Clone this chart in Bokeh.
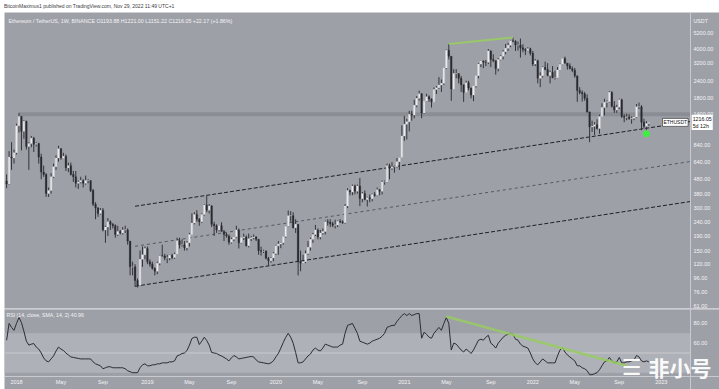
import pandas as pd
from bokeh.plotting import figure
from bokeh.models import (Range1d, FixedTicker, PrintfTickFormatter, Label, Span,
                          BoxAnnotation, Div, Spacer, ColumnDataSource)
from bokeh.layouts import column, row
from bokeh.embed import file_html
from bokeh.resources import INLINE

# ---------------- data (weekly ETH/USDT candles) ----------------
week_start = "2017-12-04"
first_open = 466

closes = [445, 690, 680, 740,
          1150, 1340, 1050, 1240, 820, 860, 940, 850, 860, 690,
          540, 520, 380, 400, 500, 590, 680, 790, 680, 700,
          580, 600, 520, 500, 450, 460, 470, 450, 470, 470,
          400, 320, 300, 275, 290, 210, 220, 240, 230, 225,
          195, 205, 200, 210, 210, 175, 115, 115, 92, 85,
          130, 140,
          155, 125, 120, 112, 107, 122, 138, 137, 133, 133,
          139, 134, 141, 176, 165, 165, 157, 170, 195, 235,
          270, 250, 240, 270, 315, 290, 310, 230, 225, 210,
          225, 205, 195, 190, 172, 180, 188, 210, 170, 185,
          187, 162, 182, 185, 187, 180, 150, 148, 149, 132,
          127, 133,
          143, 162, 167, 170, 189, 223, 265, 265, 218, 230,
          125, 122, 125, 143, 158, 180, 195, 210, 187, 200,
          205, 240, 238, 232, 227, 228, 242, 240, 236, 310,
          400, 390, 430, 395, 430, 350, 380, 345, 355, 350,
          375, 370, 405, 395, 460, 460, 600, 575, 590, 590,
          640, 685,
          975, 1180, 1230, 1390, 1370, 1610, 1800, 1940, 1420, 1720,
          1850, 1780, 1700, 2080, 2140, 2240, 2300, 2950, 3950, 3580,
          2100, 2700, 2700, 2500, 2250, 1980, 2320, 2130, 1900, 2200,
          2600, 3150, 3310, 3250, 3240, 3900, 3400, 3330, 2930, 3400,
          3580, 3850, 4080, 4280, 4610, 4570, 4300, 4300, 4110, 4000,
          3930, 4040,
          3760, 3150, 3330, 2500, 2600, 2990, 2880, 2620, 2760, 2520,
          2520, 2860, 3140, 3450, 3200, 3060, 2920, 2850, 2600, 2050,
          1980, 1940, 1800, 1440, 1130, 1140, 1170, 1100, 1340, 1550,
          1690, 1700, 1990, 1580, 1490, 1560, 1760, 1340, 1320, 1330,
          1290, 1300, 1330, 1570, 1570, 1220, 1140, 1193.88, 1216.05]

highs = [520, 760, 880, 780,
         1190, 1420, 1350, 1260, 1250, 880, 975, 960, 880, 870,
         730, 600, 530, 420, 530, 620, 710, 830, 800, 740,
         720, 630, 630, 550, 550, 470, 500, 480, 510, 480,
         470, 410, 330, 305, 300, 300, 225, 255, 245, 235,
         230, 225, 210, 220, 225, 215, 175, 125, 120, 95,
         150, 160,
         160, 160, 130, 125, 114, 125, 140, 165, 142, 140,
         140, 142, 145, 185, 185, 180, 175, 175, 200, 275,
         280, 290, 255, 275, 320, 365, 320, 315, 240, 230,
         225, 238, 210, 200, 195, 185, 190, 225, 215, 185,
         198, 192, 198, 190, 195, 190, 180, 160, 152, 150,
         135, 135,
         146, 165, 175, 172, 190, 225, 288, 285, 280, 250,
         230, 150, 140, 150, 175, 185, 200, 228, 215, 210,
         215, 245, 250, 250, 240, 248, 245, 250, 245, 320,
         415, 405, 440, 440, 440, 490, 390, 400, 360, 375,
         380, 390, 420, 410, 470, 470, 620, 620, 635, 600,
         680, 690,
         1160, 1350, 1290, 1470, 1470, 1760, 1870, 2040, 1960, 1720,
         1940, 1890, 1800, 2150, 2200, 2550, 2450, 2950, 4000, 4370,
         3580, 2900, 2900, 2700, 2600, 2250, 2400, 2400, 2150, 2200,
         2600, 3200, 3330, 3340, 3370, 4030, 3950, 3700, 3350, 3480,
         3650, 3970, 4380, 4460, 4660, 4870, 4650, 4550, 4780, 4360,
         4080, 4150,
         4120, 3900, 3420, 3380, 2750, 3040, 3280, 3200, 2830, 3050,
         2830, 3000, 3180, 3480, 3560, 3210, 3190, 3030, 2960, 2600,
         2160, 2050, 2000, 1920, 1450, 1250, 1220, 1280, 1380, 1660,
         1790, 1740, 2030, 2020, 1720, 1620, 1790, 1790, 1390, 1400,
         1390, 1340, 1340, 1640, 1680, 1610, 1290, 1240, 1221.00]

lows = [415, 440, 560, 620,
        720, 1030, 770, 930, 780, 560, 810, 750, 820, 620,
        480, 500, 360, 360, 380, 490, 560, 640, 660, 680,
        550, 540, 510, 460, 420, 410, 450, 420, 440, 450,
        390, 310, 250, 260, 270, 205, 170, 190, 210, 215,
        185, 190, 195, 195, 200, 165, 100, 100, 83, 82,
        84, 115,
        130, 120, 115, 110, 100, 102, 118, 136, 128, 122,
        128, 130, 131, 140, 155, 160, 150, 150, 160, 195,
        230, 240, 225, 235, 265, 280, 275, 220, 190, 200,
        205, 205, 175, 185, 165, 168, 175, 185, 155, 168,
        178, 160, 158, 175, 180, 175, 140, 138, 144, 130,
        117, 123,
        126, 140, 140, 156, 165, 185, 220, 240, 215, 200,
        100, 107, 121, 122, 140, 150, 170, 190, 180, 180,
        195, 195, 225, 220, 220, 215, 220, 235, 232, 232,
        300, 370, 370, 375, 380, 310, 330, 340, 308, 330,
        335, 360, 365, 370, 375, 440, 455, 480, 560, 535,
        580, 560,
        680, 900, 920, 1050, 1250, 1300, 1560, 1740, 1300, 1400,
        1700, 1700, 1550, 1700, 1930, 2100, 2000, 2240, 2900, 3400,
        1730, 2100, 2500, 2300, 2000, 1700, 1970, 2050, 1800, 1720,
        2150, 2500, 3000, 2950, 3050, 3150, 3000, 3250, 2650, 2800,
        3350, 3400, 3700, 3900, 4150, 4500, 3900, 3930, 3500, 3820,
        3650, 3890,
        3630, 3050, 3050, 2300, 2160, 2530, 2850, 2580, 2300, 2500,
        2450, 2500, 2850, 3120, 3180, 2880, 2900, 2760, 2520, 1700,
        1920, 1710, 1730, 1430, 880, 1040, 990, 1080, 1010, 1340,
        1360, 1550, 1680, 1550, 1420, 1420, 1510, 1310, 1220, 1260,
        1270, 1190, 1260, 1310, 1510, 1070, 1100, 1070, 1151.22]

rsi = [63, 80, 76, 73,
       80, 86, 81, 72, 62, 58, 59, 59.6, 56, 54,
       50, 45, 42, 41, 44, 47, 52, 56, 54, 52.5,
       50, 48, 46, 45.5, 45, 44.5, 44, 44, 44, 44,
       44, 41, 39, 38, 37, 34, 35, 36, 36, 35,
       35, 35, 35, 35, 34, 32, 31, 30, 30, 30,
       35, 38,
       39, 37, 37, 38, 38, 39, 39, 40, 40, 40,
       41, 41, 42, 47, 48, 49.5, 50, 52.5, 58, 64.7,
       66, 66, 58.6, 62, 66, 62.7, 58, 50.5, 50, 49.5,
       48, 47, 45.5, 44, 42, 45, 47.5, 46, 44, 44.5,
       45, 45.5, 46, 46.5, 46, 43, 41, 40.5, 40, 39.5,
       39, 40,
       42, 46, 49.5, 55, 60.7, 66, 70, 66, 60, 50.5,
       40, 40, 41, 44, 47, 49, 53, 55, 53, 52,
       55, 59, 58, 57, 56, 56, 56, 58, 59, 70,
       78, 79, 80, 75, 70, 62, 61, 60, 59, 60,
       62, 63, 64, 65, 67, 70, 76, 77, 78, 78,
       82, 85,
       88, 90, 88, 90, 88, 89, 90, 90, 65, 71,
       69, 66, 65, 70, 73, 76, 73, 80, 86, 80,
       53, 60, 59, 56, 53, 51, 54, 52, 49.5, 53,
       58, 63, 64, 63, 66, 68, 60, 58, 55, 60,
       63, 66, 68, 69, 70, 69, 64, 63, 59, 57,
       56, 55,
       50, 44, 40, 38, 41, 44, 42, 40, 40, 40,
       40, 47, 53, 55.6, 51, 48, 46, 44, 42, 37,
       37, 35, 34, 32, 28, 28, 29, 30, 33, 37,
       41, 42, 45.5, 42, 40, 41, 45.5, 40, 40, 41,
       41, 42, 43, 47.5, 46, 42, 41, 42, 40.96]

axis_tick_dates = ["2018-01-01", "2018-05-07", "2018-09-03", "2019-01-07", "2019-05-06",
                   "2019-09-02", "2020-01-06", "2020-05-04", "2020-09-07", "2021-01-04",
                   "2021-05-03", "2021-09-06", "2022-01-03", "2022-05-02", "2022-09-05",
                   "2023-01-02"]
axis_tick_labels = ["2018", "May", "Sep", "2019", "May", "Sep", "2020", "May", "Sep",
                    "2021", "May", "Sep", "2022", "May", "Sep", "2023"]
price_ticks = [61, 76, 96, 120, 150, 190, 240, 300, 380, 480, 640, 840,
               1400, 1800, 2400, 3200, 4000, 5200]
rsi_ticks = [60, 80]

# drawings on the chart (week index, price / RSI value)
channel_weeks = [48, 272.84]
channel_upper = [309, 1233]
channel_middle = [160.8, 642]
channel_lower = [83.7, 334]
resistance_weeks = [1, 272.84]
resistance_level = [1390, 1390]
hh_weeks = [175, 201]
hh_prices = [4372, 4868]
rsi_div_weeks = [174, 247]
rsi_div_vals = [87, 37]
rsi_mid_weeks = [-4.858, 272.84]
rsi_mid_level = [50, 50]
marker_week = [255]
marker_price = [1010]
last_price = 1216.05

# ---------------- layout constants (week units / value units) ----------------
X_START = -4.858      # left edge of the chart
X_AXIS = 272.84       # where the price scale begins
X_END = 284.58        # right edge of the window
RSI_AXIS_LEVEL = 26.14

# ---------------- styling ----------------
BG = "#9ea0a8"
BAND = "#afb1b8"
SEP = "#c8cad0"
TXT = "#f3f3f5"
DARK = "#2a2b30"
UP = "#ebebed"
GREEN_LINE = "#98cc62"
FONT = "Liberation Sans"

base = pd.Timestamp("2018-01-01")
dates = pd.date_range(week_start, periods=len(closes), freq="7D")
weeks = [int((d - base).days // 7) for d in dates]
opens = [first_open] + closes[:-1]
hi = [max(h, o, c) for h, o, c in zip(highs, opens, closes)]
lo = [min(l, o, c) for l, o, c in zip(lows, opens, closes)]
tops = [max(o, c) for o, c in zip(opens, closes)]
bots = [min(o, c) for o, c in zip(opens, closes)]
fills = [UP if c >= o else DARK for o, c in zip(opens, closes)]
src = ColumnDataSource(dict(w=weeks, h=hi, l=lo, top=tops, bot=bots, fill=fills))

tick_pos = [int((pd.Timestamp(d) - base).days // 7) for d in axis_tick_dates]

x_range = Range1d(X_START, X_END)


def style_axis(ax):
    ax.major_tick_line_color = None
    ax.major_tick_out = 0
    ax.major_tick_in = 0
    ax.minor_tick_line_color = None
    ax.minor_tick_out = 0
    ax.minor_tick_in = 0
    ax.axis_line_color = SEP
    ax.axis_line_width = 1
    ax.major_label_text_font_size = "5.5px"
    ax.major_label_text_color = TXT
    ax.major_label_text_font = FONT
    ax.major_label_standoff = 3


# ---------------- price pane ----------------
p = figure(width=715, height=296, x_range=x_range, y_range=Range1d(58.2, 7316),
           y_axis_type="log", y_axis_location="right", x_axis_location=None,
           output_backend="svg", toolbar_location=None,
           min_border_left=0, min_border_right=0, min_border_top=0, min_border_bottom=0,
           background_fill_color=BG, border_fill_color=BG, outline_line_color=None)
p.grid.visible = False
ya = p.yaxis[0]
ya.fixed_location = X_AXIS
ya.ticker = FixedTicker(ticks=price_ticks)
ya.formatter = PrintfTickFormatter(format="%.2f")
style_axis(ya)

# resistance band at the 2018 high
p.line(resistance_weeks, resistance_level, line_width=4, color="#8b8d95")

# channel
p.line(channel_weeks, channel_upper, line_color="#1e1f24", line_width=1, line_dash="4 2")
p.line(channel_weeks, channel_middle, line_color="#2e2f34", line_width=0.8, line_dash="3 3", line_alpha=0.8)
p.line(channel_weeks, channel_lower, line_color="#1e1f24", line_width=1, line_dash="4 2")

# candles
p.segment(x0="w", y0="l", x1="w", y1="h", source=src, line_color="#34353a", line_width=1)
p.vbar(x="w", width=0.66, top="top", bottom="bot", source=src,
       fill_color="fill", line_color="fill", line_width=0.3)

# higher-high line and marker
p.line(hh_weeks, hh_prices, line_color=GREEN_LINE, line_width=2, line_alpha=0.9)
p.scatter(marker_week, marker_price, size=6, color="#3df03d")

p.add_layout(Label(x=-3.24, y=6419,
                   text="Ethereum / TetherUS, 1W, BINANCE   O1193.88  H1221.00  L1151.22  C1216.05  +22.17 (+1.86%)",
                   text_font=FONT, text_font_size="5.3px", text_color=TXT, text_baseline="middle"))
p.add_layout(Label(x=274.05, y=6419, text="USDT",
                   text_font=FONT, text_font_size="5.3px", text_color=TXT, text_baseline="middle"))
p.add_layout(Label(x=261.5, y=last_price, text="ETHUSDT",
                   text_font=FONT, text_font_size="5px", text_color="#111111",
                   text_baseline="middle", background_fill_color="white",
                   border_line_color="#222222", border_line_width=0.6, padding=1))
p.add_layout(Label(x=273.3, y=last_price, text="1216.05\n5d 12h",
                   text_font=FONT, text_font_size="5.3px", text_color="#111111",
                   text_baseline="middle", background_fill_color="white", padding=1))

# ---------------- RSI pane ----------------
r = figure(width=715, height=81, x_range=x_range, y_range=Range1d(12.94, 95.18),
           y_axis_location="right", x_axis_location="below",
           output_backend="svg", toolbar_location=None,
           min_border_left=0, min_border_right=0, min_border_top=0, min_border_bottom=0,
           background_fill_color=BG, border_fill_color=BG, outline_line_color=None)
r.grid.visible = False
r.add_layout(BoxAnnotation(bottom=30, top=70, right=X_AXIS, fill_color=BAND, fill_alpha=1,
                           line_color=None, level="underlay"))
r.line(rsi_mid_weeks, rsi_mid_level, line_color=SEP, line_width=1)
r.add_layout(Span(location=94.7, dimension="width", line_color=SEP, line_width=1.5))

r.line(weeks, rsi, line_color="#2c2d33", line_width=1)
r.line(rsi_div_weeks, rsi_div_vals, line_color=GREEN_LINE, line_width=2.5, line_alpha=0.85)

ra = r.yaxis[0]
ra.fixed_location = X_AXIS
ra.ticker = FixedTicker(ticks=rsi_ticks)
ra.formatter = PrintfTickFormatter(format="%.2f")
style_axis(ra)

xa = r.xaxis[0]
xa.fixed_location = RSI_AXIS_LEVEL
xa.ticker = FixedTicker(ticks=tick_pos)
xa.major_label_overrides = {t: lab for t, lab in zip(tick_pos, axis_tick_labels)}
style_axis(xa)

r.add_layout(Label(x=-4.05, y=88.1, text="RSI (14, close, SMA, 14, 2)   40.96",
                   text_font=FONT, text_font_size="5.2px", text_color=TXT, text_baseline="middle"))

# watermark
r.add_layout(Label(x=255.8, y=35.3, text="非小号",
                   text_font="Noto Sans CJK SC", text_font_style="bold", text_font_size="21px",
                   text_color="white", text_alpha=0.95, text_baseline="middle"))
r.add_layout(Label(x=245.0, y=35.3, text="☰",
                   text_font="DejaVu Sans", text_font_size="22px",
                   text_color="white", text_alpha=0.95, text_baseline="middle"))

header = Div(text="BitcoinMaximus1 published on TradingView.com, Nov 29, 2022 11:49 UTC+1",
             width=715, height=12, margin=(0, 0, 0, 0),
             styles={"font-size": "5px", "line-height": "12px", "color": "#3c3c3c",
                     "font-family": FONT, "background-color": "white"})

layout = row(Spacer(width=4, height=389, margin=(0, 0, 0, 0)),
             column(header, p, r, spacing=0), spacing=0)

open("out.html", "w").write(file_html(layout, INLINE))
